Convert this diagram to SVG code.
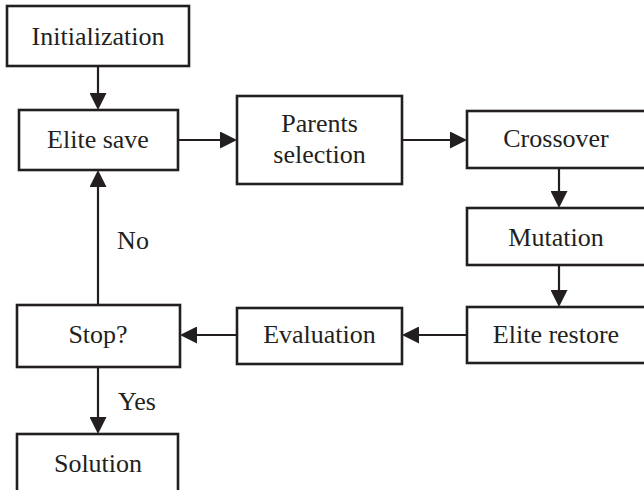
<svg xmlns="http://www.w3.org/2000/svg" width="644" height="490" viewBox="0 0 644 490">
<style>
.box{fill:#fff;stroke:#231f20;stroke-width:2.6}
.t{font-family:"Liberation Serif","Times New Roman",serif;font-size:26px;fill:#231f20;text-anchor:middle}
.c{stroke:#231f20;stroke-width:2.2;fill:none;marker-end:url(#ah)}
</style>
<defs>
<marker id="ah" markerUnits="userSpaceOnUse" markerWidth="17" markerHeight="17" refX="7" refY="8.5" orient="auto">
<path d="M0,0 L17,8.5 L0,17 z" fill="#231f20"/>
</marker>
</defs>
<rect width="644" height="490" fill="#fff"/>
<g id="connectors">
<line class="c" x1="98" y1="66" x2="98" y2="100"/>
<line class="c" x1="178" y1="140" x2="227" y2="140"/>
<line class="c" x1="402" y1="140" x2="457" y2="140"/>
<line class="c" x1="559" y1="168" x2="559" y2="198"/>
<line class="c" x1="559" y1="265" x2="559" y2="297"/>
<line class="c" x1="467" y1="335" x2="412" y2="335"/>
<line class="c" x1="237" y1="335" x2="190" y2="335"/>
<line class="c" x1="98" y1="305" x2="98" y2="180"/>
<line class="c" x1="98" y1="367" x2="98" y2="424"/>
<text class="t" x="133" y="249">No</text>
<text class="t" x="137" y="410">Yes</text>
</g>
<g id="init"><rect class="box" x="7" y="6" width="182" height="60"/><text class="t" x="98" y="45">Initialization</text></g>
<g id="elite-save"><rect class="box" x="19" y="110" width="159" height="60"/><text class="t" x="98" y="148">Elite save</text></g>
<g id="parents"><rect class="box" x="237" y="96" width="165" height="88"/><text class="t" x="319.5" y="132">Parents</text><text class="t" x="319.5" y="163">selection</text></g>
<g id="crossover"><rect class="box" x="467" y="111" width="190" height="57"/><text class="t" x="556" y="147">Crossover</text></g>
<g id="mutation"><rect class="box" x="467" y="208" width="190" height="57"/><text class="t" x="556" y="246">Mutation</text></g>
<g id="elite-restore"><rect class="box" x="467" y="307" width="190" height="56"/><text class="t" x="556" y="343">Elite restore</text></g>
<g id="evaluation"><rect class="box" x="237" y="308" width="165" height="56"/><text class="t" x="319.5" y="343">Evaluation</text></g>
<g id="stop"><rect class="box" x="17" y="305" width="163" height="62"/><text class="t" x="98" y="343">Stop?</text></g>
<g id="solution"><rect class="box" x="17" y="434" width="161" height="70"/><text class="t" x="98" y="472">Solution</text></g>
</svg>
